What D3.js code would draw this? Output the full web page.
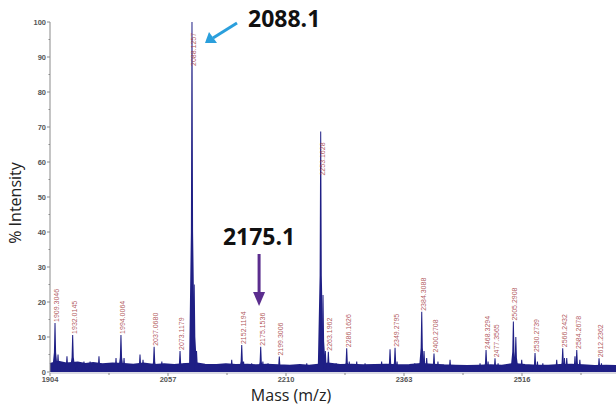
<!DOCTYPE html>
<html>
<head>
<meta charset="utf-8">
<script src="https://cdn.jsdelivr.net/npm/d3@7"></script>
<style>
  body { margin: 0; background: #fff; }
  svg { display: block; }
</style>
</head>
<body>
<div id="chart"></div>
<script>
// peaks with a mass label: [mass, % intensity, label]
var labeledPeaks = [
    [1910.5, 14.0, "1909.3046"],
    [1933.4, 10.6, "1932.0145"],
    [1996.0, 10.6, "1994.0064"],
    [2039.0, 7.2, "2037.0680"],
    [2072.6, 6.0, "2073.1179"],
    [2088.1, 100, "2088.1257"],
    [2152.6, 7.7, "2152.1194"],
    [2177.2, 7.2, "2175.1536"],
    [2201.3, 4.4, "2199.3006"],
    [2255.0, 68.7, "2253.1628"],
    [2264.9, 5.8, "2263.1962"],
    [2288.7, 6.8, "2286.1626"],
    [2351.4, 6.9, "2349.2795"],
    [2386.0, 17.2, "2384.3088"],
    [2401.9, 5.3, "2400.2708"],
    [2469.4, 6.3, "2468.3294"],
    [2481.0, 3.9, "2477.3565"],
    [2504.8, 14.4, "2505.2908"],
    [2532.9, 5.4, "2530.2739"],
    [2568.8, 6.8, "2566.2432"],
    [2587.0, 6.3, "2584.2678"],
    [2615.9, 3.9, "2612.2362"]
]

// unlabeled peaks: [mass, % intensity]
var minorPeaks = [
    [1914.4, 5], [1926, 4.5], [1939, 2.5], [1948, 3], [1956, 3], [1967.5, 4.5], [1979, 2.2],
    [1989.6, 4], [2000, 4], [2020.7, 5], [2024.6, 3.5], [2044, 2.2], [2049, 3], [2077.8, 2.5],
    [2091, 25], [2094, 6], [2110, 2.2], [2125, 2], [2139.6, 3.5], [2155, 3], [2165.5, 2.5],
    [2180, 3], [2186.7, 2.5], [2212.6, 2], [2236.9, 2.5], [2258, 22], [2261, 6], [2275, 2.5],
    [2292, 3], [2301.7, 3], [2312.5, 2.5], [2334, 3], [2344.9, 6.5], [2354, 3], [2370.8, 2],
    [2377, 2.5], [2389, 6], [2392.4, 4], [2407, 3], [2422.7, 3.5], [2450.8, 2], [2461.6, 2.5],
    [2472, 3], [2485, 2.5], [2508, 10], [2515.6, 3.5], [2536, 3], [2543, 2.5], [2561, 3.5],
    [2571, 4], [2574, 4], [2584.7, 4.5], [2591, 3.5], [2608.5, 2], [2619, 2.5], [2630, 2], [2640, 2]
]

// noisy baseline level read along the mass axis: [mass, % intensity]
var baseline = [
    [1904, 2.3], [1915, 2.9], [1925, 2.4], [1940, 2.7], [1950, 2.3], [1960, 2.6], [1972, 2.2],
    [1985, 2.4], [2000, 2.3], [2012, 2.1], [2025, 2.4], [2040, 2.0], [2052, 2.2], [2065, 2.0],
    [2080, 2.3], [2095, 2.4], [2105, 2.1], [2120, 2.0], [2132, 2.2], [2145, 2.0], [2160, 2.1],
    [2172, 1.9], [2185, 2.1], [2200, 1.9], [2215, 1.8], [2228, 2.0], [2240, 1.8], [2252, 2.1],
    [2265, 2.4], [2280, 2.0], [2295, 2.1], [2310, 1.9], [2325, 2.0], [2340, 2.1], [2355, 1.9],
    [2370, 2.0], [2385, 2.3], [2400, 2.1], [2415, 1.9], [2430, 1.8], [2445, 1.7], [2460, 1.8],
    [2475, 1.9], [2490, 1.8], [2505, 2.3], [2520, 2.0], [2535, 1.8], [2550, 1.8], [2565, 2.0],
    [2580, 2.1], [2595, 1.9], [2610, 1.7], [2625, 1.8], [2640, 1.7], [2669, 1.6]
]

var xTicks = [1904, 2057, 2210, 2363, 2516]
var xMinorTicks = [1980.5, 2133.5, 2286.5, 2439.5, 2592.5]
var yTicks = [0, 10, 20, 30, 40, 50, 60, 70, 80, 90, 100]
var yMinorTicks = [5, 15, 25, 35, 45, 55, 65, 75, 85, 95]

var callouts = [
    {text: "2088.1", mass: 2088.1},
    {text: "2175.1", mass: 2175.1}
]

const width = 616, height = 408
const margin = {top: 22, right: -24, bottom: 36, left: 50}
var spectrumColor = "#1f1f85", labelColor = "#a3373d", axisColor = "#8a8a8a"

document.addEventListener('DOMContentLoaded', function () {
    drawChart()
})

function drawChart() {
    var svg = d3.select("#chart").append("svg").attr("width", width).attr("height", height)

    var x = d3.scaleLinear().domain([1904, 2669]).range([margin.left, width - margin.right])
    var y = d3.scaleLinear().domain([0, 100]).range([height - margin.bottom, margin.top])

    // baseline noise band
    var area = d3.area().x(d => x(d[0])).y0(y(0)).y1(d => y(d[1]))
    svg.append("path").datum(baseline).attr("d", area).attr("fill", spectrumColor)
    svg.append("path").datum(baseline).attr("d", d3.line().x(d => x(d[0])).y(d => y(d[1])))
        .attr("fill", "none").attr("stroke", spectrumColor).attr("stroke-width", 2)

    // each peak drawn as a narrow spike, wide at the base
    function peakPath(d) {
        var px = x(d[0]), y0 = y(0), yt = y(d[1]), ym = y(d[1] * 0.4)
        return "M" + (px - 3) + "," + y0 + "L" + (px - 1.1) + "," + ym + "L" + (px - 0.5) + "," + yt +
            "L" + (px + 0.5) + "," + yt + "L" + (px + 1.1) + "," + ym + "L" + (px + 3) + "," + y0 + "Z"
    }
    svg.selectAll("path.minor").data(minorPeaks).enter().append("path").attr("class", "minor")
        .attr("d", peakPath).attr("fill", spectrumColor)
    svg.selectAll("path.peak").data(labeledPeaks).enter().append("path").attr("class", "peak")
        .attr("d", peakPath).attr("fill", spectrumColor)

    // peak mass labels, rotated
    svg.selectAll("text.plabel").data(labeledPeaks).enter().append("text").attr("class", "plabel")
        .attr("transform", d => {
            var base = d[1] > 50 ? y(d[1]) + 44 : y(d[1]) - 1
            return "translate(" + (x(d[0]) + 4) + "," + base + ") rotate(-90)"
        })
        .attr("font-family", "Liberation Sans, Arial, sans-serif").attr("font-size", 7)
        .attr("fill", labelColor).attr("fill-opacity", 0.85).text(d => d[2])

    // y axis
    svg.append("line").attr("x1", margin.left).attr("x2", margin.left).attr("y1", y(100)).attr("y2", y(0))
        .attr("stroke", axisColor).attr("stroke-width", 1)
    svg.selectAll("line.ytick").data(yTicks).enter().append("line").attr("class", "ytick")
        .attr("x1", margin.left - 3).attr("x2", margin.left).attr("y1", d => y(d)).attr("y2", d => y(d))
        .attr("stroke", axisColor)
    svg.selectAll("line.yminor").data(yMinorTicks).enter().append("line").attr("class", "yminor")
        .attr("x1", margin.left - 1.5).attr("x2", margin.left).attr("y1", d => y(d)).attr("y2", d => y(d))
        .attr("stroke", axisColor)
    svg.selectAll("text.ylab").data(yTicks).enter().append("text").attr("class", "ylab")
        .attr("x", margin.left - 4).attr("y", d => y(d) + 2.5).attr("text-anchor", "end")
        .attr("font-family", "Liberation Sans Narrow, Liberation Sans, Arial, sans-serif").attr("font-size", 7.5)
        .attr("font-weight", "bold").attr("fill", "#555").text(d => d)

    // x axis
    svg.append("line").attr("x1", margin.left).attr("x2", width).attr("y1", y(0) + 1).attr("y2", y(0) + 1)
        .attr("stroke", "#b5b5c8").attr("stroke-width", 1)
    svg.selectAll("line.xtick").data(xTicks).enter().append("line").attr("class", "xtick")
        .attr("x1", d => x(d)).attr("x2", d => x(d)).attr("y1", y(0) + 1).attr("y2", y(0) + 4)
        .attr("stroke", axisColor)
    svg.selectAll("line.xminor").data(xMinorTicks).enter().append("line").attr("class", "xminor")
        .attr("x1", d => x(d)).attr("x2", d => x(d)).attr("y1", y(0) + 1).attr("y2", y(0) + 3)
        .attr("stroke", axisColor)
    svg.selectAll("text.xlab").data(xTicks).enter().append("text").attr("class", "xlab")
        .attr("x", d => x(d)).attr("y", y(0) + 10).attr("text-anchor", "middle")
        .attr("font-family", "Liberation Sans Narrow, Liberation Sans, Arial, sans-serif").attr("font-size", 7.5)
        .attr("font-weight", "bold").attr("fill", "#555").text(d => d)

    // axis titles
    svg.append("text").attr("transform", "translate(21," + 203 + ") rotate(-90)").attr("text-anchor", "middle")
        .attr("font-family", "Open Sans, sans-serif").attr("font-size", 16).attr("fill", "#222").text("% Intensity")
    svg.append("text").attr("x", 291).attr("y", 401).attr("text-anchor", "middle")
        .attr("font-family", "Open Sans, sans-serif").attr("font-size", 16).attr("fill", "#222").text("Mass (m/z)")

    // callouts
    var big = callouts[0], small = callouts[1]
    svg.append("text").attr("x", 248).attr("y", 27).attr("font-family", "Open Sans, sans-serif")
        .attr("font-size", 23).attr("font-weight", "bold").attr("fill", "#111").text(big.text)
    svg.append("line").attr("x1", 237).attr("y1", 23).attr("x2", 213).attr("y2", 38)
        .attr("stroke", "#2a9fdc").attr("stroke-width", 3)
    svg.append("path").attr("d", "M205,43 L209,32 L217,43 Z").attr("fill", "#2a9fdc")

    var sx = x(small.mass)
    svg.append("text").attr("x", sx).attr("y", 245).attr("text-anchor", "middle").attr("font-family", "Open Sans, sans-serif")
        .attr("font-size", 23).attr("font-weight", "bold").attr("fill", "#111").text(small.text)
    svg.append("line").attr("x1", sx).attr("y1", 254).attr("x2", sx).attr("y2", 296)
        .attr("stroke", "#5b2d8e").attr("stroke-width", 3)
    svg.append("path").attr("d", "M" + (sx - 6) + ",292 L" + (sx + 6) + ",292 L" + sx + ",306 Z").attr("fill", "#5b2d8e")
}
</script>
</body>
</html>
